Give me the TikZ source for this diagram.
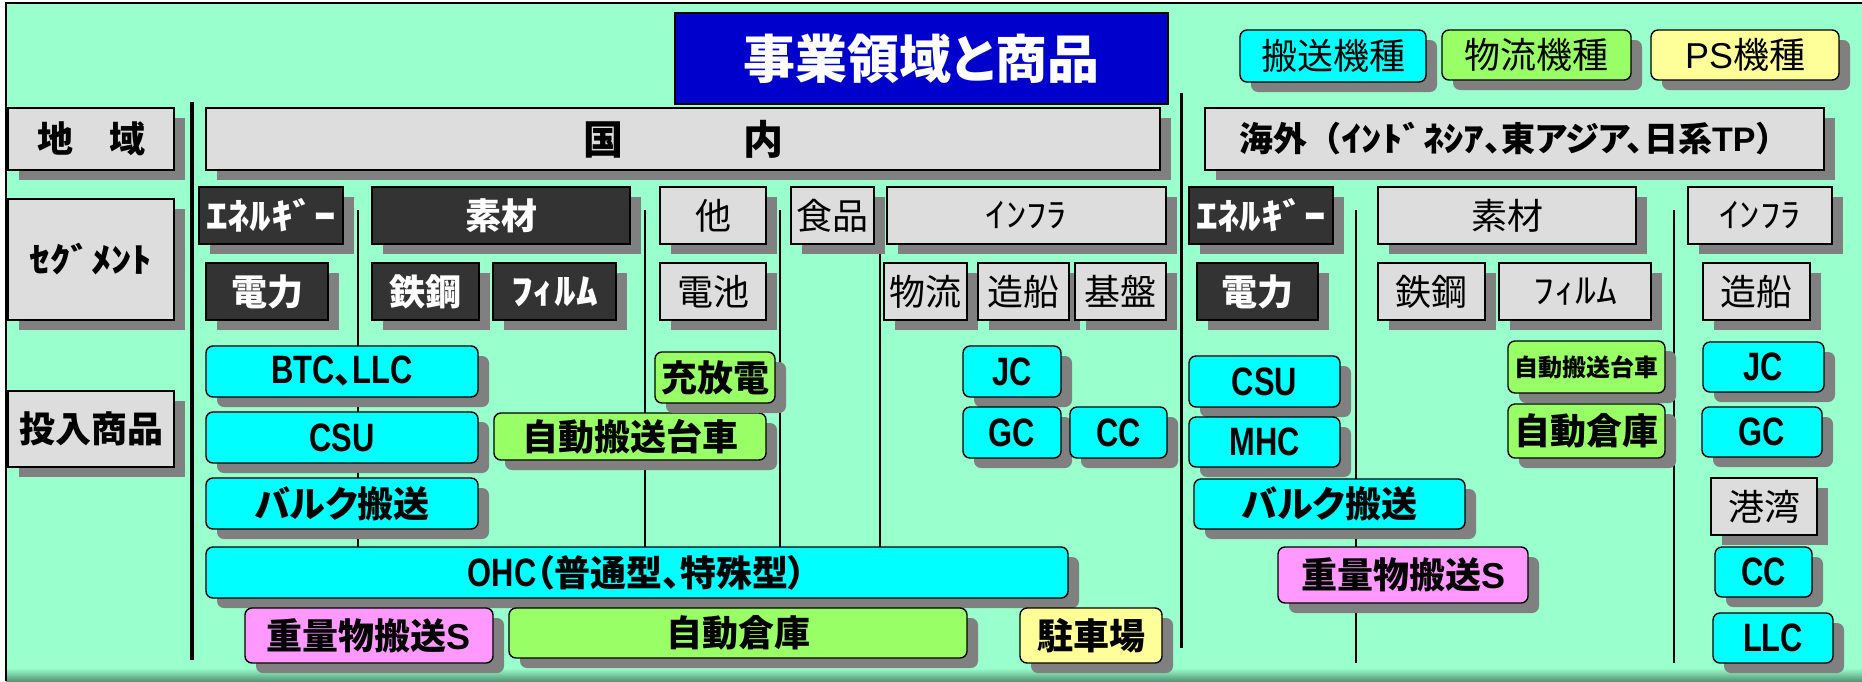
\documentclass[tikz,border=0pt]{standalone}
\usepackage{fontspec}
\usetikzlibrary{shadows}
\newfontfamily\jp{Noto Sans CJK JP}[RawFeature={+palt}]
\newfontfamily\jpf{Noto Sans CJK JP}
\newfontfamily\hw{Noto Sans CJK JP}[FakeStretch=1.2]
\newfontfamily\lat{Liberation Sans}[FakeStretch=0.78, Scale=1.1]
\newfontfamily\latw{Liberation Sans}
\definecolor{bg}{RGB}{153,255,204}
\definecolor{bgdark}{RGB}{85,150,118}
\definecolor{titleblue}{RGB}{0,0,204}
\definecolor{cyanfill}{RGB}{0,255,255}
\definecolor{greenfill}{RGB}{153,255,102}
\definecolor{yellowfill}{RGB}{255,255,153}
\definecolor{pinkfill}{RGB}{255,153,255}
\definecolor{lightfill}{RGB}{221,221,221}
\definecolor{darkfill}{RGB}{51,51,51}
\definecolor{shadowgray}{RGB}{128,128,128}
\tikzset{
  fb/.style={font=\jp\bfseries\fontsize{#1}{#1}\selectfont},
  fr/.style={font=\jp\fontsize{#1}{#1}\selectfont},
  hwb/.style={font=\hw\bfseries\fontsize{#1}{#1}\selectfont},
  hwr/.style={font=\hw\fontsize{#1}{#1}\selectfont},
  base/.style={draw=black, line width=1.4pt, inner sep=0pt, outer sep=0pt, align=center,
    drop shadow={shadow xshift=11pt, shadow yshift=-10pt, fill=shadowgray, opacity=1}},
  lightbox/.style={base, fill=lightfill},
  darkbox/.style={base, fill=darkfill, text=white},
  cyanbox/.style={base, fill=cyanfill, rounded corners=7pt},
  greenbox/.style={base, fill=greenfill, rounded corners=7pt},
  yellowbox/.style={base, fill=yellowfill, rounded corners=7pt},
  pinkbox/.style={base, fill=pinkfill, rounded corners=7pt},
  titlebox/.style={draw=black, line width=2.5pt, fill=titleblue, text=white, inner sep=0pt},
  thickdiv/.style={line width=3.5pt},
  thindiv/.style={line width=1.3pt},
}
\newcommand\mybox[7]{%
  \pgfmathsetmacro\mbw{#5-#3}%
  \pgfmathsetmacro\mbh{#6-#4}%
  \node[#2, minimum width=\mbw pt, minimum height=\mbh pt] (#1) at ({(#3+#5)/2},{(#4+#6)/2}) {#7};}
\begin{document}
\begin{tikzpicture}[x=1pt,y=-1pt]
\useasboundingbox (0,0) rectangle (1862,681);
\fill[white] (0,0) rectangle (1862,681);
\fill[bg] (6,3) rectangle (1862,681);
\shade[top color=bg, bottom color=bgdark] (6,668) rectangle (1862,681);
\draw[line width=2pt] (6,681) -- (6,3) -- (1862,3);
% dividers
\draw[thickdiv] (192,102) -- (192,660);
\draw[thickdiv] (1181.5,93) -- (1181.5,648);
\draw[thindiv] (358,210) -- (358,547);
\draw[thindiv] (645,210) -- (645,547);
\draw[thindiv] (780,210) -- (780,547);
\draw[thindiv] (880,253) -- (880,547);
\draw[thindiv] (1356,210) -- (1356,663);
\draw[thindiv] (1674,210) -- (1674,663);
% title and legend
\mybox{title}{titlebox,fb=52}{675}{13}{1168}{104}{事業領域と商品}
\mybox{lg1}{cyanbox,fr=36}{1240}{30}{1426}{82}{搬送機種}
\mybox{lg2}{greenbox,fr=36}{1442}{30}{1631}{80}{物流機種}
\mybox{lg3}{yellowbox,fr=36}{1651}{30}{1839}{80}{{\latw PS}機種}
% region row
\mybox{chiiki}{lightbox,fb=36}{8}{108}{174}{170}{地　域}
\mybox{kokunai}{lightbox,fb=40}{206}{108}{1160}{170}{国　　　内}
\mybox{kaigai}{lightbox,fb=34}{1205}{108}{1824}{170}{海外{\jpf （}{\hw ｲﾝﾄﾞﾈｼｱ}、東アジア、日系{\latw TP}{\jpf ）}}
% segment rows
\mybox{seg}{lightbox,hwb=34}{8}{199}{174}{320}{ｾｸﾞﾒﾝﾄ}
\mybox{energy}{darkbox,hwb=36}{199}{187}{343}{244}{ｴﾈﾙｷﾞｰ}
\mybox{sozai}{darkbox,fb=36}{372}{187}{630}{244}{素材}
\mybox{hoka}{lightbox,fr=36}{660}{187}{766}{244}{他}
\mybox{shokuhin}{lightbox,fr=36}{791}{187}{874}{244}{食品}
\mybox{infra}{lightbox,hwr=34}{887}{187}{1166}{244}{ｲﾝﾌﾗ}
\mybox{energyO}{darkbox,hwb=36}{1189}{187}{1333}{244}{ｴﾈﾙｷﾞｰ}
\mybox{sozaiO}{lightbox,fr=36}{1378}{187}{1636}{244}{素材}
\mybox{infraO}{lightbox,hwr=34}{1688}{187}{1832}{244}{ｲﾝﾌﾗ}
\mybox{denryoku}{darkbox,fb=36}{206}{263}{328}{320}{電力}
\mybox{tekko}{darkbox,fb=36}{372}{263}{479}{320}{鉄鋼}
\mybox{film}{darkbox,hwb=36}{493}{263}{616}{320}{ﾌｨﾙﾑ}
\mybox{denchi}{lightbox,fr=36}{660}{263}{766}{320}{電池}
\mybox{butsuryu}{lightbox,fr=36}{884}{263}{967}{320}{物流}
\mybox{zosen}{lightbox,fr=36}{978}{263}{1069}{320}{造船}
\mybox{kiban}{lightbox,fr=36}{1075}{263}{1166}{320}{基盤}
\mybox{denryokuO}{darkbox,fb=36}{1197}{263}{1318}{320}{電力}
\mybox{tekkoO}{lightbox,fr=36}{1378}{263}{1485}{320}{鉄鋼}
\mybox{filmO}{lightbox,hwr=35}{1499}{263}{1651}{320}{ﾌｨﾙﾑ}
\mybox{zosenO}{lightbox,fr=36}{1703}{263}{1810}{320}{造船}
% products
\mybox{tonyu}{lightbox,fb=36}{8}{391}{174}{467}{投入商品}
\mybox{btc}{cyanbox,fb=36}{206}{346}{478}{397}{{\lat BTC}、{\lat LLC}}
\mybox{csu}{cyanbox,fb=36}{206}{412}{478}{463}{{\lat CSU}}
\mybox{bulk}{cyanbox,fb=36}{206}{478}{478}{529}{バルク搬送}
\mybox{ohc}{cyanbox,fb=36}{206}{547}{1068}{598}{{\lat OHC}（普通型、特殊型）}
\mybox{juryo}{pinkbox,fb=36}{245}{608}{493}{663}{重量物搬送{\latw S}}
\mybox{soko}{greenbox,fb=36}{509}{608}{967}{658}{自動倉庫}
\mybox{daisha}{greenbox,fb=36}{494}{413}{766}{460}{自動搬送台車}
\mybox{juhoden}{greenbox,fb=36}{655}{352}{775}{403}{充放電}
\mybox{jc}{cyanbox,fb=36}{963}{346}{1061}{397}{{\lat JC}}
\mybox{gc}{cyanbox,fb=36}{963}{407}{1061}{458}{{\lat GC}}
\mybox{cc}{cyanbox,fb=36}{1070}{407}{1167}{458}{{\lat CC}}
\mybox{parking}{yellowbox,fb=36}{1020}{608}{1162}{663}{駐車場}
\mybox{csuO}{cyanbox,fb=36}{1189}{356}{1340}{407}{{\lat CSU}}
\mybox{mhcO}{cyanbox,fb=36}{1189}{417}{1340}{467}{{\lat MHC}}
\mybox{bulkO}{cyanbox,fb=36}{1194}{479}{1465}{529}{バルク搬送}
\mybox{juryoO}{pinkbox,fb=36}{1278}{547}{1528}{603}{重量物搬送{\latw S}}
\mybox{daishaO}{greenbox,fb=24}{1508}{341}{1665}{393}{自動搬送台車}
\mybox{sokoO}{greenbox,fb=36}{1508}{404}{1665}{458}{自動倉庫}
\mybox{jcO}{cyanbox,fb=36}{1703}{342}{1824}{392}{{\lat JC}}
\mybox{gcO}{cyanbox,fb=36}{1702}{407}{1822}{457}{{\lat GC}}
\mybox{kowan}{lightbox,fr=36}{1711}{478}{1817}{535}{港湾}
\mybox{ccO}{cyanbox,fb=36}{1715}{547}{1812}{597}{{\lat CC}}
\mybox{llcO}{cyanbox,fb=36}{1713}{613}{1833}{663}{{\lat LLC}}
\end{tikzpicture}
\end{document}
